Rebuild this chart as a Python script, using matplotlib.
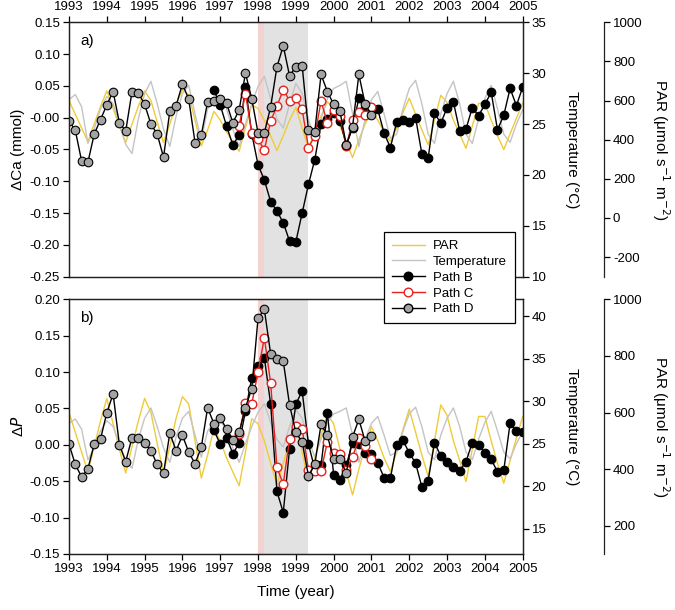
import numpy as np
import matplotlib
matplotlib.use("Agg")
import matplotlib.pyplot as plt
from matplotlib.lines import Line2D

plt.rcParams['font.family'] = ['Liberation Sans', 'DejaVu Sans']
plt.rcParams['axes.unicode_minus'] = False

# bimonthly time steps, 1993.0 .. 2005.0
t = 1993 + np.arange(73) / 6.0

# PAR (umol s-1 m-2) and temperature (degC), same in both panels
par = [600, 530, 460, 390, 480, 570, 650, 560, 470, 386, 480, 570,
       650, 600, 490, 386, 480, 580, 656, 630, 500, 368, 450, 545,
       500, 440, 390, 341, 460, 578, 560, 500, 420, 345, 420, 500,
       565, 460, 356, 440, 520, 594, 560, 470, 390, 309, 400, 480,
       550, 500, 440, 391, 460, 540, 612, 530, 450, 374, 500, 627,
       590, 500, 430, 356, 470, 586, 586, 500, 420, 350, 430, 510, 586]
temp = [27.4, 27.9, 26.7, 23.1, 24.5, 26.5, 27.7, 27.0, 25.0, 23.0, 22.1, 25.5,
        28.0, 29.2, 27.0, 24.5, 22.8, 25.8, 28.0, 28.8, 26.0, 23.4, 26.5, 27.5,
        27.8, 26.5, 24.5, 22.8, 25.0, 27.0, 28.7, 29.7, 27.5, 25.5, 24.6, 27.0,
        29.0, 28.0, 25.5, 23.4, 25.5, 27.5, 28.5, 28.8, 29.2, 26.0, 22.8, 25.5,
        27.4, 28.2, 26.0, 23.6, 24.0, 26.5, 28.5, 29.3, 27.0, 24.0, 23.1, 26.0,
        28.0, 29.2, 27.0, 24.0, 23.1, 25.5, 27.5, 28.8, 26.5, 24.0, 23.2, 25.0, 26.4]

# panel a) delta Ca (mmol)
ca_b = [0.043, 0.020, -0.013, -0.043, -0.027, 0.049, -0.025, -0.074, -0.098, -0.132,
        -0.147, -0.165, -0.194, -0.195, -0.150, -0.105, -0.066, -0.010, -0.002, 0.008,
        -0.005, -0.043, -0.016, 0.031, 0.015, 0.016, 0.013, -0.024, -0.047, -0.007,
        -0.004, -0.007, 0.000, -0.057, -0.063, 0.008, -0.009, 0.016, 0.025, -0.021,
        -0.018, 0.016, 0.003, 0.021, 0.040, -0.019, 0.004, 0.046, 0.019, 0.048]   # from 1996.83
ca_c = [-0.013, 0.038, -0.024, -0.034, -0.051, -0.005, 0.018, 0.044, 0.027, 0.031,
        0.013, -0.047, -0.029, 0.026, -0.008, 0.012, 0.003, -0.045, -0.004, 0.009,
        0.004, 0.017]   # from 1997.5
ca_d = [-0.005, -0.020, -0.068, -0.070, -0.026, -0.003, 0.020, 0.041, -0.008, -0.021,
        0.041, 0.039, 0.021, -0.010, -0.026, -0.062, 0.010, 0.019, 0.053, 0.029,
        -0.039, -0.027, 0.025, 0.026, 0.030, 0.023, -0.008, 0.012, 0.070, 0.030,
        -0.024, -0.024, 0.017, 0.080, 0.113, 0.066, 0.080, 0.082, -0.019, -0.022,
        0.068, 0.041, 0.021, 0.010, -0.043, -0.014, 0.068, 0.021, 0.005]   # 1993.0 - 2001.0

# panel b) delta P
p_b = [0.020, 0.001, 0.010, -0.012, 0.002, 0.046, 0.092, 0.108, 0.120, 0.056,
       -0.064, -0.093, -0.006, 0.056, 0.074, 0.001, -0.033, -0.028, 0.044, -0.041,
       -0.048, -0.028, 0.003, 0.001, -0.011, -0.012, -0.025, -0.045, -0.046, 0.000,
       0.006, -0.011, -0.025, -0.058, -0.049, 0.003, -0.015, -0.023, -0.031, -0.036,
       -0.023, 0.003, 0.000, -0.011, -0.020, -0.037, -0.035, 0.030, 0.019, 0.018]
p_c = [0.015, 0.057, 0.056, 0.100, 0.147, 0.085, -0.031, -0.054, 0.008, 0.026,
       0.022, -0.034, -0.036, -0.036, 0.004, -0.011, -0.012, -0.035, -0.017, 0.009,
       -0.001, -0.020]
p_d = [0.001, -0.027, -0.044, -0.033, 0.001, 0.008, 0.044, 0.070, 0.000, -0.023,
       0.010, 0.010, 0.003, -0.008, -0.027, -0.039, 0.016, -0.008, 0.013, -0.010,
       -0.026, -0.003, 0.051, 0.029, 0.037, 0.022, 0.007, 0.017, 0.051, 0.077,
       0.174, 0.186, 0.125, 0.118, 0.115, 0.055, 0.017, 0.004, -0.043, -0.027,
       0.028, 0.013, -0.020, -0.019, -0.039, 0.011, 0.035, 0.005, 0.012]

start_b, start_c, start_d = 23, 27, 0

years = list(range(1993, 2006))

c_par = '#efcb3a'
c_temp = '#c4c4c4'
c_red = '#e3231f'
c_grey = '#a3a3a3'

fig = plt.figure(figsize=(6.75, 6.1), dpi=100)
left, width = 69 / 675, 453.7 / 675
ax_a = fig.add_axes([left, 1 - 276.7 / 610, width, 254.4 / 610])
ax_b = fig.add_axes([left, 1 - 554 / 610, width, 254.7 / 610])

panels = [
    (ax_a, ca_b, ca_c, ca_d, (-0.25, 0.15), (10, 35), (-300, 1000),
     np.arange(10, 36, 5), np.arange(-200, 1001, 200), 'a)',
     u'\u0394Ca (mmol)'),
    (ax_b, p_b, p_c, p_d, (-0.15, 0.20), (12, 42), (100, 1000),
     np.arange(15, 41, 5), np.arange(200, 1001, 200), 'b)',
     u'\u0394$\\it{P}$'),
]

tick_kw = dict(direction='out', length=4, width=0.9, labelsize=9.5, pad=2.5)

for ax, sb, sc, sd, ylim, tlim, plim, tticks, pticks, tag, ylab in panels:
    ax_p = ax.twinx()
    ax_t = ax.twinx()
    ax_p.set_zorder(1)
    ax_t.set_zorder(2)
    ax.set_zorder(3)
    ax.patch.set_visible(False)
    ax_t.patch.set_visible(False)

    # event shading
    ax_p.axvspan(1998.0, 1998.17, color='#f4d2d2', lw=0)
    ax_p.axvspan(1998.17, 1999.33, color='#e2e2e2', lw=0)

    ax_p.plot(t, par, color=c_par, lw=1.0)
    ax_t.plot(t, temp, color=c_temp, lw=1.0)

    ax.plot(t[start_b:start_b + len(sb)], sb, '-o', color='black', lw=1.0,
            ms=6.2, mfc='black', mec='black', mew=0.8)
    ax.plot(t[start_c:start_c + len(sc)], sc, '-o', color=c_red, lw=1.0,
            ms=6.2, mfc='white', mec=c_red, mew=1.0)
    ax.plot(t[start_d:start_d + len(sd)], sd, '-o', color='black', lw=1.0,
            ms=6.2, mfc=c_grey, mec='black', mew=0.8)

    ax.set_xlim(1993, 2005)
    ax.set_ylim(*ylim)
    ax.set_yticks(np.arange(ylim[0], ylim[1] + 0.001, 0.05))
    ax.yaxis.set_major_formatter(matplotlib.ticker.FormatStrFormatter('%.2f'))
    ax.set_xticks(years)
    ax.tick_params(axis='y', **tick_kw)
    ax.tick_params(axis='x', **tick_kw)
    ax.text(0.025, 0.925, tag, transform=ax.transAxes, fontsize=11,
            ha='left', va='center')
    ax.text(-0.112, 0.5, ylab, transform=ax.transAxes, rotation=90,
            ha='center', va='center', fontsize=11)

    ax_t.set_ylim(*tlim)
    ax_t.set_yticks(tticks)
    ax_t.tick_params(axis='y', **tick_kw)
    ax_t.text(1.109, 0.5, u'Temperature (\u00b0C)', transform=ax.transAxes,
              rotation=270, ha='center', va='center', fontsize=11)

    ax_p.set_ylim(*plim)
    ax_p.set_yticks(pticks)
    ax_p.tick_params(axis='y', **tick_kw)
    ax_p.spines['right'].set_position(('axes', 1.179))
    for s in ['top', 'bottom', 'left']:
        ax_p.spines[s].set_visible(False)
    ax_p.text(1.305, 0.5, u'PAR (\u03bcmol s$^{-1}$ m$^{-2}$)',
              transform=ax.transAxes, rotation=270, ha='center', va='center',
              fontsize=11)
    for a in (ax, ax_t, ax_p):
        for s in a.spines.values():
            s.set_linewidth(0.9)
            s.set_color('#222222')

ax_a.xaxis.tick_top()
ax_a.tick_params(axis='x', which='both', bottom=False, top=True)
ax_b.tick_params(axis='x', which='both', bottom=True, top=False)
ax_b.set_xlabel('Time (year)', fontsize=11, labelpad=7)

handles = [
    Line2D([], [], color=c_par, lw=1.0),
    Line2D([], [], color=c_temp, lw=1.0),
    Line2D([], [], color='black', lw=1.0, marker='o', ms=6.2, mfc='black', mec='black'),
    Line2D([], [], color=c_red, lw=1.0, marker='o', ms=6.2, mfc='white', mec=c_red),
    Line2D([], [], color='black', lw=1.0, marker='o', ms=6.2, mfc=c_grey, mec='black'),
]
labels = ['PAR', 'Temperature', 'Path B', 'Path C', 'Path D']
leg = fig.legend(handles, labels, loc='upper left',
                 bbox_to_anchor=(384 / 675, 1 - 232 / 610), fontsize=9.5,
                 frameon=True, fancybox=False, edgecolor='black',
                 framealpha=1, borderaxespad=0, handlelength=2.5,
                 labelspacing=0.27, borderpad=0.6, handletextpad=0.6)
leg.get_frame().set_linewidth(0.9)

fig.savefig('out.png', dpi=100)
